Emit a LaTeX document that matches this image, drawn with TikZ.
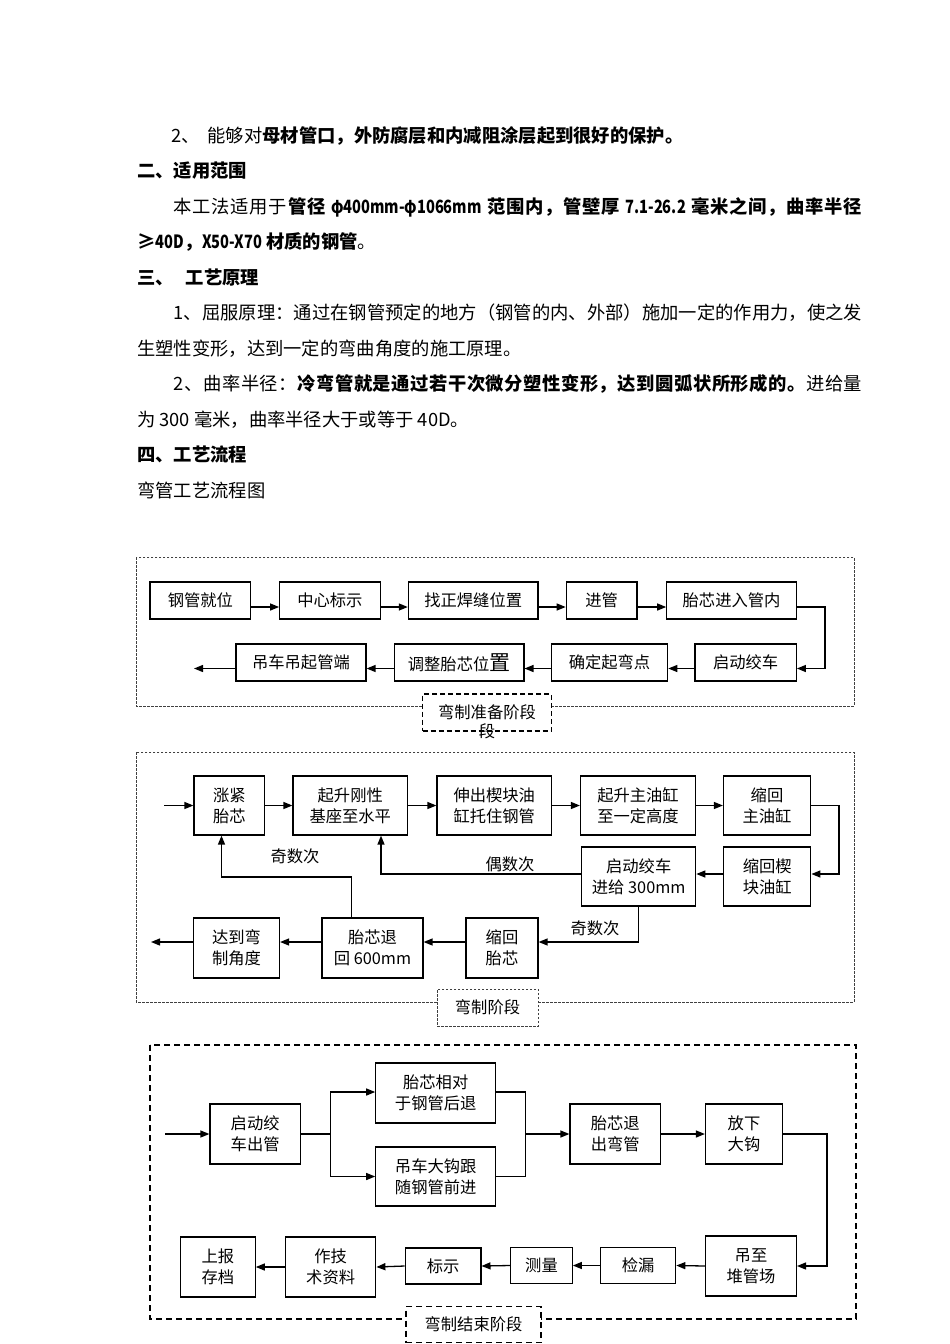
\documentclass[tikz,border=0pt]{standalone}
\usepackage{fontspec}
\usepackage{graphicx}
\newfontfamily\cjk{Noto Sans CJK SC}
\usetikzlibrary{arrows.meta}
\makeatletter
\newcommand\spr[1]{\@tfor\@tok:=#1\do{\@tok\hskip 0pt plus 1fil\relax}}
\makeatother
\newcommand\jline[2]{\hbox to #1{#2\unskip}}
\newcommand\cond[1]{\scalebox{0.8}[1]{#1}}
\begin{document}
\begin{tikzpicture}[x=1pt,y=-1pt,font=\cjk,
  txt/.style={anchor=base west,inner sep=0pt,font=\cjk\fontsize{18.3}{18.3}\selectfont},
  box/.style={draw,line width=1.2pt,inner sep=0pt,align=center,fill=white,font=\cjk\fontsize{16.3}{21}\selectfont},
  lbl/.style={inner sep=0pt,font=\cjk\fontsize{16.3}{21}\selectfont},
  arr/.style={line width=1.3pt,-{Triangle[length=9pt,width=7pt]}},
  ln/.style={line width=1.3pt},
  fineframe/.style={draw=black!75,line width=0.8pt,dash pattern=on 2.5pt off 1.5pt},
  finelab/.style={fineframe,fill=white,inner sep=0pt,font=\cjk\fontsize{16.3}{21}\selectfont},
  midlab/.style={draw,line width=1.2pt,dash pattern=on 5pt off 3pt,fill=white,inner sep=0pt,font=\cjk\fontsize{16.3}{21}\selectfont},
  coarseframe/.style={draw,line width=1.5pt,dash pattern=on 6pt off 4pt},
  coarselab/.style={coarseframe,fill=white,inner sep=0pt,font=\cjk\fontsize{16.3}{21}\selectfont}
]
\fill[white] (0,0) rectangle (950,1344);
\useasboundingbox (0,0) rectangle (950,1344);

% ---------------- text ----------------
\node[txt] (t1) at (171,142) {2、\hspace{8pt}能够对\textbf{母材管口，外防腐层和内减阻涂层起到很好的保护。}};
\node[txt] (t2) at (137,177.5) {\textbf{二、适用范围}};
\node[txt] (t3) at (173.6,213) {\jline{688.4pt}{\spr{本工法适用于}\textbf{\spr{管径{\ }{\cond{φ400mm-φ1066mm}}{\ }范围内，管壁厚{\ }{\cond{7.1-26.2}}{\ }毫米之间，曲率半径}}}};
\node[txt] (t4) at (137,248.5) {\textbf{≥\cond{40D}，\cond{X50-X70} 材质的钢管}。};
\node[txt] (t5) at (137,284) {\textbf{三、\hspace{12pt}工艺原理}};
\node[txt] (t6) at (173.6,319.5) {\jline{688.4pt}{\spr{1、屈服原理：通过在钢管预定的地方（钢管的内、外部）施加一定的作用力，使之发}}};
\node[txt] (t7) at (137,355) {生塑性变形，达到一定的弯曲角度的施工原理。};
\node[txt] (t8) at (173.6,390.5) {\jline{688.4pt}{\spr{2、曲率半径：}\textbf{\spr{冷弯管就是通过若干次微分塑性变形，达到圆弧状所形成的。}}\spr{进给量}}};
\node[txt] (t9) at (137,426) {为 300 毫米，曲率半径大于或等于 40D。};
\node[txt] (t10) at (137,461.5) {\textbf{四、工艺流程}};
\node[txt] (t11) at (137,497) {弯管工艺流程图};

% ---------------- stage 1 ----------------
\draw[fineframe] (136,557.3) rectangle (854,706);
\node[box,minimum width=100.7pt,minimum height=37pt] (a1) at (200.35,600.5) {钢管就位};
\node[box,minimum width=100.4pt,minimum height=37pt] (a2) at (329.9,600.5) {中心标示};
\node[box,minimum width=129.6pt,minimum height=37pt] (a3) at (473.2,600.5) {找正焊缝位置};
\node[box,minimum width=70.7pt,minimum height=37pt] (a4) at (601.65,600.5) {进管};
\node[box,minimum width=129.5pt,minimum height=37pt] (a5) at (731.55,600.5) {胎芯进入管内};
\node[box,minimum width=101.3pt,minimum height=37pt] (b1) at (745.65,662.5) {启动绞车};
\node[box,minimum width=116.4pt,minimum height=37pt] (b2) at (609.5,662.5) {确定起弯点};
\node[box,minimum width=129.6pt,minimum height=37pt] (b3) at (459.1,662.5) {调整胎芯位{\fontsize{21}{21}\selectfont 置}};
\node[box,minimum width=130.1pt,minimum height=37pt] (b4) at (300.95,662.5) {吊车吊起管端};
\coordinate (out1) at (194,668.5);
\coordinate (r1) at (825,637);
\draw[arr] ([yshift=-6.5pt]a1.east) -- ([yshift=-6.5pt]a2.west);
\draw[arr] ([yshift=-6.5pt]a2.east) -- ([yshift=-6.5pt]a3.west);
\draw[arr] ([yshift=-6.5pt]a3.east) -- ([yshift=-6.5pt]a4.west);
\draw[arr] ([yshift=-6.5pt]a4.east) -- ([yshift=-6.5pt]a5.west);
\draw[arr] ([yshift=-6.5pt]a5.east) -| (r1) |- ([yshift=-6pt]b1.east);
\draw[arr] ([yshift=-6pt]b1.west) -- ([yshift=-6pt]b2.east);
\draw[arr] ([yshift=-6pt]b2.west) -- ([yshift=-6pt]b3.east);
\draw[arr] ([yshift=-6pt]b3.west) -- ([yshift=-6pt]b4.east);
\draw[arr] ([yshift=-6pt]b4.west) -- (out1);
\node[midlab,minimum width=128.7pt,minimum height=37pt] (L1) at (487,712.5) {弯制准备阶段};
\node[lbl] (L1b) at (487,731.5) {段};

% ---------------- stage 2 ----------------
\draw[fineframe] (136,752.3) rectangle (854,1002);
\node[box,minimum width=70.6pt,minimum height=59pt] (c1) at (229.3,805.5) {涨紧\\胎芯};
\node[box,minimum width=114.5pt,minimum height=59pt] (c2) at (350.25,805.5) {起升刚性\\基座至水平};
\node[box,minimum width=114.5pt,minimum height=59pt] (c3) at (494.25,805.5) {伸出楔块油\\缸托住钢管};
\node[box,minimum width=115pt,minimum height=59pt] (c4) at (638,805.5) {起升主油缸\\至一定高度};
\node[box,minimum width=87pt,minimum height=59pt] (c5) at (767,805.5) {缩回\\主油缸};
\node[box,minimum width=87pt,minimum height=59pt] (c6) at (767.3,876.5) {缩回楔\\块油缸};
\node[box,minimum width=114pt,minimum height=59pt] (c7) at (638.7,876.5) {启动绞车\\进给 300mm};
\node[box,minimum width=72pt,minimum height=60pt] (c8) at (502,948) {缩回\\胎芯};
\node[box,minimum width=101pt,minimum height=60pt] (c9) at (372.5,948) {胎芯退\\回 600mm};
\node[box,minimum width=86pt,minimum height=60pt] (c10) at (236.5,948) {达到弯\\制角度};
\coordinate (in2) at (164,805.5);
\coordinate (out2) at (151,942);
\coordinate (r2) at (839,840);
\coordinate (k1) at (221.5,877);
\draw[arr] (in2) -- (c1.west);
\draw[arr] (c1.east) -- (c2.west);
\draw[arr] (c2.east) -- (c3.west);
\draw[arr] (c3.east) -- (c4.west);
\draw[arr] (c4.east) -- (c5.west);
\draw[arr] (c5.east) -| (r2) |- ([yshift=2.5pt]c6.east);
\draw[arr] ([yshift=2.5pt]c6.west) -- ([yshift=2.5pt]c7.east);
\draw[arr] ([yshift=2.5pt]c7.west) -| ([xshift=30.75pt]c2.south);
\draw[arr] (c7.south) |- ([yshift=6pt]c8.east);
\draw[arr] ([yshift=6pt]c8.west) -- ([yshift=6pt]c9.east);
\draw[arr] ([yshift=6pt]c9.west) -- ([yshift=6pt]c10.east);
\draw[arr] ([yshift=6pt]c10.west) -- (out2);
\draw[arr] ([xshift=-20.8pt]c9.north) |- (k1) -- ([xshift=-7.8pt]c1.south);
\node[lbl] (q1) at (295,856) {奇数次};
\node[lbl] (q2) at (510,864) {偶数次};
\node[lbl] (q3) at (595,928.5) {奇数次};
\node[finelab,minimum width=101pt,minimum height=37pt] (L2) at (487.5,1007.5) {弯制阶段};

% ---------------- stage 3 ----------------
\draw[coarseframe] (150,1045) rectangle (856,1319);
\node[box,minimum width=90.3pt,minimum height=60pt] (d1) at (255.15,1134) {启动绞\\车出管};
\node[box,minimum width=119.8pt,minimum height=60pt] (d2) at (435.7,1093) {胎芯相对\\于钢管后退};
\node[box,minimum width=119.8pt,minimum height=59pt] (d3) at (435.7,1176.5) {吊车大钩跟\\随钢管前进};
\node[box,minimum width=90.5pt,minimum height=60pt] (d4) at (615.25,1134) {胎芯退\\出弯管};
\node[box,minimum width=77pt,minimum height=60pt] (d5) at (744,1134) {放下\\大钩};
\node[box,minimum width=90.8pt,minimum height=60pt] (d6) at (751,1266) {吊至\\堆管场};
\node[box,minimum width=75pt,minimum height=35.5pt] (d7) at (638.2,1265.5) {检漏};
\node[box,minimum width=61.5pt,minimum height=35.5pt] (d8) at (541.5,1265.5) {测量};
\node[box,minimum width=75.6pt,minimum height=36pt] (d9) at (443.1,1266) {标示};
\node[box,minimum width=90.3pt,minimum height=60pt] (d10) at (330.65,1267) {作技\\术资料};
\node[box,minimum width=74.7pt,minimum height=60pt] (d11) at (217.85,1267) {上报\\存档};
\coordinate (in3) at (165,1134);
\coordinate (s1) at (330.3,1134);
\coordinate (m1) at (525.5,1134);
\coordinate (r3) at (827,1200);
\draw[arr] (in3) -- (d1.west);
\draw[ln] (d1.east) -- (s1);
\draw[arr] (s1) |- ([yshift=1pt]d2.west);
\draw[arr] (s1) |- (d3.west);
\draw[ln] ([yshift=1pt]d2.east) -| (m1);
\draw[ln] (d3.east) -| (m1);
\draw[arr] (m1) -- (d4.west);
\draw[arr] (d4.east) -- (d5.west);
\draw[arr] (d5.east) -| (r3) |- (d6.east);
\draw[arr] (d6.west) -- (d7.east);
\draw[arr] (d7.west) -- (d8.east);
\draw[arr] (d8.west) -- (d9.east);
\draw[arr] (d9.west) -- (d10.east);
\draw[arr] (d10.west) -- (d11.east);
\node[coarselab,minimum width=135pt,minimum height=36pt] (L3) at (473.5,1324.5) {弯制结束阶段};
\end{tikzpicture}
\end{document}
